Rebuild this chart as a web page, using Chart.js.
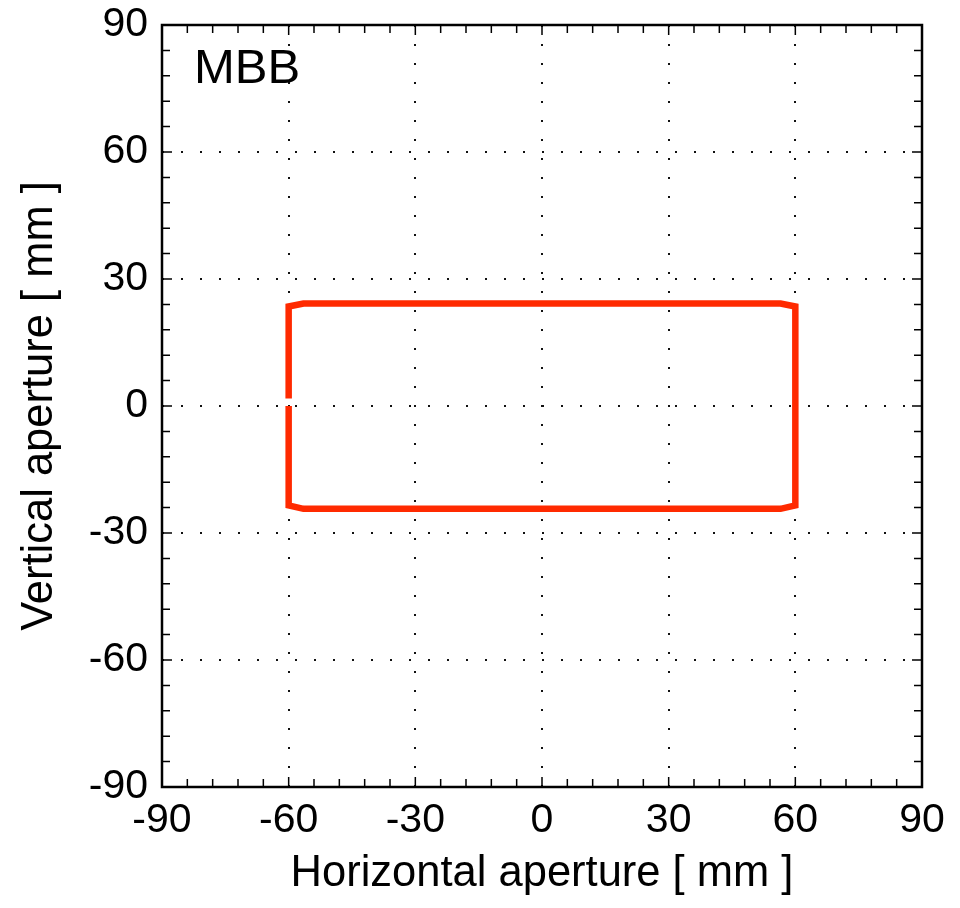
<!DOCTYPE html>
<html>
<head>
<meta charset="utf-8">
<script src="https://cdn.jsdelivr.net/npm/chart.js@4/dist/chart.umd.min.js"></script>
<style>
  html, body { margin: 0; padding: 0; background: #fff; }
  #wrap { width: 960px; height: 908px; position: relative; }
</style>
</head>
<body>
<div id="wrap"><canvas id="c" width="960" height="908"></canvas></div>
<script>
// Aperture outline (mm)
const apertureX = [-60, -60, -56.5, 56.5, 60, 60, 56.5, -56.5, -60, -60];
const apertureY = [0, -23.5, -24.3, -24.3, -23.5, 23.5, 24.2, 24.2, 23.5, 1.8];
const axisMin = -90;
const axisMax = 90;
const majorStep = 30;
const minorStep = 6;
const panelLabel = 'MBB';
const xTitle = 'Horizontal aperture [ mm ]';
const yTitle = 'Vertical aperture [ mm ]';

const FONT = '"Liberation Sans", Arial, Helvetica, sans-serif';
const points = apertureX.map((x, i) => ({ x: x, y: apertureY[i] }));

const gridColor = (ctx) => {
  const v = ctx.tick && ctx.tick.value;
  if (v === axisMin || v === axisMax) return 'rgba(0,0,0,0)';
  return '#111';
};

const framePlugin = {
  id: 'frame',
  afterDraw(chart) {
    const { ctx, chartArea: a, scales } = chart;
    const xs = scales.x, ys = scales.y;
    ctx.save();
    ctx.strokeStyle = '#000';
    ctx.lineWidth = 1.5;
    ctx.beginPath();
    for (let v = axisMin; v <= axisMax + 1e-9; v += minorStep) {
      const major = Math.abs(v % majorStep) < 1e-9;
      const len = major ? 10 : 8;
      const px = xs.getPixelForValue(v);
      ctx.moveTo(px, a.bottom); ctx.lineTo(px, a.bottom - len);
      ctx.moveTo(px, a.top); ctx.lineTo(px, a.top + len);
      const py = ys.getPixelForValue(v);
      ctx.moveTo(a.left, py); ctx.lineTo(a.left + len, py);
      ctx.moveTo(a.right, py); ctx.lineTo(a.right - len, py);
    }
    ctx.stroke();
    ctx.lineWidth = 2.5;
    ctx.strokeRect(a.left, a.top, a.right - a.left, a.bottom - a.top);
    ctx.fillStyle = '#000';
    ctx.font = '49px ' + FONT;
    ctx.textBaseline = 'alphabetic';
    ctx.textAlign = 'left';
    ctx.fillText(panelLabel, a.left + 32, a.top + 58);
    ctx.restore();
  }
};

new Chart(document.getElementById('c'), {
  type: 'scatter',
  data: {
    datasets: [{
      data: points,
      showLine: true,
      borderColor: '#ff2a00',
      backgroundColor: '#ff2a00',
      borderWidth: 6.5,
      borderCapStyle: 'butt',
      borderJoinStyle: 'miter',
      pointRadius: 0,
      tension: 0,
      fill: false
    }]
  },
  options: {
    responsive: false,
    animation: false,
    devicePixelRatio: 1,
    layout: { padding: { top: 25, right: 38, left: 0, bottom: 0 } },
    plugins: { legend: { display: false }, tooltip: { enabled: false } },
    scales: {
      x: {
        type: 'linear',
        min: axisMin, max: axisMax,
        afterFit(scale) {
          scale.height = 121;
          scale.paddingLeft = 0; scale.paddingRight = 0;
        },
        ticks: {
          stepSize: majorStep,
          color: '#000',
          font: { family: FONT, size: 41 },
          padding: 9,
          maxRotation: 0,
          autoSkip: false
        },
        grid: {
          color: gridColor,
          lineWidth: 2,
          drawTicks: false
        },
        border: { display: false, dash: [2, 17] },
        title: {
          display: true,
          text: xTitle,
          color: '#000',
          font: { family: FONT, size: 43.5 },
          padding: { top: 0, bottom: 8 }
        }
      },
      y: {
        type: 'linear',
        min: axisMin, max: axisMax,
        afterFit(scale) {
          scale.width = 162;
          scale.paddingTop = 0; scale.paddingBottom = 0;
        },
        ticks: {
          stepSize: majorStep,
          color: '#000',
          font: { family: FONT, size: 41 },
          padding: 14,
          autoSkip: false
        },
        grid: {
          color: gridColor,
          lineWidth: 2,
          drawTicks: false
        },
        border: { display: false, dash: [2, 17] },
        title: {
          display: true,
          text: yTitle,
          color: '#000',
          font: { family: FONT, size: 43.5 },
          padding: { top: 14, bottom: 0 }
        }
      }
    }
  },
  plugins: [framePlugin]
});
</script>
</body>
</html>
